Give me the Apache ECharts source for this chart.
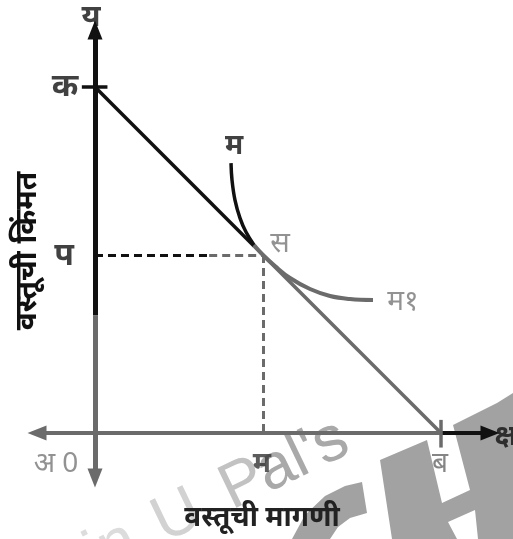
<!DOCTYPE html>
<html>
<head>
<meta charset="utf-8">
<script src="https://cdn.jsdelivr.net/npm/echarts@6/dist/echarts.min.js"></script>
<style>
html,body{margin:0;padding:0;background:#fff;}
#c{width:513px;height:539px;}
</style>
</head>
<body>
<div id="c"></div>
<script>
// ---- data (data units: O = origin, OB = OK = 10) ----
const pointK = [0, 10];
const pointB = [10, 0];
const pointS = [4.855, 5.145];
const demandSplit = [4.6, 5.4];          // where the demand line turns grey in the scan
const curveMx = [3.931, 3.960, 4.046, 4.191, 4.364, 4.595];
const curveMy = [7.803, 7.312, 6.734, 6.214, 5.809, 5.434];
const curveM1x = [4.595, 4.855, 5.202, 5.636, 6.214, 6.792, 7.370, 8.035];
const curveM1y = [5.434, 5.145, 4.827, 4.480, 4.162, 3.960, 3.873, 3.844];
const xRange = [-1.676, 11.416];
const yRange = [-1.30, 11.65];
const yAxisSplit = 3.4;
const xAxisSplit = 10;
const labelsText = {
  y: 'य', k: 'क', p: 'प', m: 'म', s: 'स', m1: 'म१', origin: 'अ 0',
  mx: 'म', b: 'ब', x: 'क्ष'
};
const yTitle = 'वस्तूची किंमत';
const xTitle = 'वस्तूची मागणी';
const watermarkParts = ['in', 'U', 'P', "al's"];

const FONT = "'Noto Sans', 'DejaVu Sans', sans-serif";
const BLACK = '#111';
const GREY = '#6b6b6b';

const zip = (a, b) => a.map((v, i) => [v, b[i]]);

function segLine(from, to, color, width, type, arrow) {
  return [{coord: from, lineStyle: {color: color, width: width, type: type || 'solid'},
           symbol: 'none'},
          {coord: to, symbol: arrow ? 'triangle' : 'none'}];
}

const chart = echarts.init(document.getElementById('c'), null, {renderer: 'canvas'});

function lbl(name, value, offset, color, size, weight) {
  return {
    name: name, value: value,
    label: {show: true, formatter: '{b}', offset: offset, color: color,
            fontSize: size, fontWeight: weight || 'bold', fontFamily: FONT,
            position: 'inside', align: 'center', verticalAlign: 'middle'}
  };
}

const wmFont = '64px "Liberation Sans", Arial, sans-serif';
const wmX = [-150, -75, 0, 40];
const wmColors = ['#dcdcdc', '#d2d2d2', '#c2c2c2', '#a9a9a9'];

const option = {
  animation: false,
  backgroundColor: '#fff',
  grid: {left: 37, right: 23, top: 30, bottom: 61, containLabel: false},
  xAxis: {type: 'value', min: xRange[0], max: xRange[1], show: false},
  yAxis: {type: 'value', min: yRange[0], max: yRange[1], show: false},
  graphic: [
    // watermark "H" and "c"
    {type: 'polygon', z: 0, silent: true,
     shape: {points: [[380, 460], [427, 440], [442, 503], [470, 490], [453, 425], [497, 403],
                      [513, 393], [513, 539], [478, 539], [475, 510], [448, 522], [457, 539],
                      [392, 539]]},
     style: {fill: '#a2a2a2'}},
    {type: 'polygon', z: 0, silent: true,
     shape: {points: [[292, 539], [305, 515], [325, 496], [345, 486], [362, 482], [367, 513],
                      [350, 518], [338, 527], [330, 539]]},
     style: {fill: '#a2a2a2'}},
    {type: 'group', z: 0, silent: true, x: 238, y: 523, rotation: 0.45,
     children: watermarkParts.map((t, i) => ({
       type: 'text', x: wmX[i], y: 0, silent: true,
       style: {text: t, fill: wmColors[i], font: wmFont, align: 'left', verticalAlign: 'bottom'}
     }))},
    // axis titles
    {type: 'text', z: 10, x: 27, y: 251, rotation: Math.PI / 2,
     style: {text: yTitle, fill: BLACK, font: 'bold 30px ' + FONT,
             align: 'center', verticalAlign: 'middle'}},
    {type: 'text', z: 10, x: 262, y: 518,
     style: {text: xTitle, fill: '#222', font: 'bold 28px ' + FONT,
             align: 'center', verticalAlign: 'middle'}}
  ],
  series: [
    {
      type: 'line', z: 5, silent: true, symbol: 'none',
      data: [pointK, demandSplit],
      lineStyle: {color: BLACK, width: 3.5},
      markLine: {
        silent: true, animation: false, symbolSize: [15, 19],
        label: {show: false}, emphasis: {disabled: true},
        data: [
          segLine([0, yAxisSplit], [0, yRange[1]], BLACK, 5, 'solid', true),
          segLine([0, yAxisSplit], [0, yRange[0]], GREY, 5, 'solid', true),
          segLine([xAxisSplit, 0], [xRange[0], 0], GREY, 4, 'solid', true),
          segLine([xAxisSplit, 0], [xRange[1], 0], BLACK, 4, 'solid', true),
          segLine([-0.38, pointK[1]], [0.36, pointK[1]], BLACK, 3.5),
          segLine([pointB[0], -0.42], [pointB[0], 0.38], GREY, 3.5),
          segLine([0, pointS[1]], [3.3, pointS[1]], BLACK, 3, [8, 5]),
          segLine([3.3, pointS[1]], pointS, GREY, 3, [8, 5]),
          segLine(pointS, [pointS[0], 0], GREY, 3, [8, 5])
        ]
      }
    },
    {
      type: 'line', z: 5, silent: true, symbol: 'none',
      data: [demandSplit, pointB],
      lineStyle: {color: GREY, width: 3.5}
    },
    {
      type: 'line', z: 6, silent: true, symbol: 'none', smooth: 0.4,
      data: zip(curveMx, curveMy),
      lineStyle: {color: BLACK, width: 3.5}
    },
    {
      type: 'line', z: 6, silent: true, symbol: 'none', smooth: 0.4,
      data: zip(curveM1x, curveM1y),
      lineStyle: {color: GREY, width: 4}
    },
    {
      type: 'scatter', z: 10, silent: true, symbolSize: 0,
      data: [
        lbl(labelsText.y, [0, yRange[1]], [-4, -13], BLACK, 30),
        lbl(labelsText.k, pointK, [-30, 0], BLACK, 32),
        lbl(labelsText.p, [0, pointS[1]], [-31, 1], BLACK, 32),
        lbl(labelsText.m, [curveMx[0], curveMy[0]], [3, -17], BLACK, 28),
        lbl(labelsText.s, pointS, [17, -11], '#777', 29, 'normal'),
        lbl(labelsText.m1, [curveM1x[curveM1x.length - 1], curveM1y[curveM1y.length - 1]], [30, 2], '#777', 28, 'normal'),
        lbl(labelsText.origin, [0, 0], [-39, 31], '#777', 28, 'normal'),
        lbl(labelsText.mx, [pointS[0], 0], [-1, 31], '#333', 28),
        lbl(labelsText.b, pointB, [-1, 31], '#666', 28, 'normal'),
        lbl(labelsText.x, [xRange[1], 0], [16, 4], BLACK, 28)
      ]
    }
  ]
};
chart.setOption(option);
</script>
</body>
</html>
